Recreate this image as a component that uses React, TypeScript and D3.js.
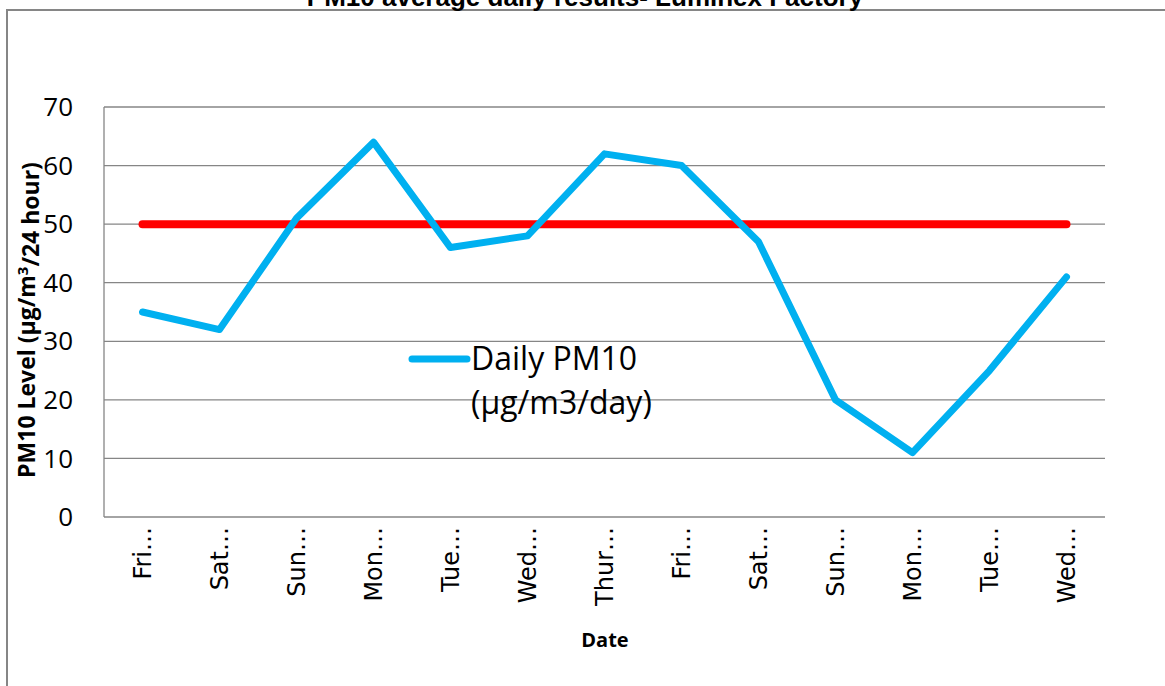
import React from "react";
import * as d3 from "d3";

const days = ["Fri…", "Sat…", "Sun…", "Mon…", "Tue…", "Wed…", "Thur…", "Fri…", "Sat…", "Sun…", "Mon…", "Tue…", "Wed…"];
const dailyPM10 = [35, 32, 51, 64, 46, 48, 62, 60, 47, 20, 11, 25, 41];
const limitValue = 50;
const yTicks = [0, 10, 20, 30, 40, 50, 60, 70];

const W = 1165;
const H = 686;
const plot = { left: 104, right: 1105, top: 107, bottom: 517 };

export default function App() {
  const idx = days.map((_, i) => i);
  const x = d3.scaleBand<number>().domain(idx).range([plot.left, plot.right]);
  const cx = (i: number) => (x(i) as number) + x.bandwidth() / 2;
  const y = d3.scaleLinear().domain([0, 70]).range([plot.bottom, plot.top]);

  const line = d3.line<number>().x((_, i) => cx(i)).y(d => y(d));
  const limit = idx.map(() => limitValue);

  const grey = "#868686";

  return (
    <svg width={W} height={H} style={{ position: "absolute", left: 0, top: 0, background: "#fff" }}>
      <rect x={7} y={10} width={W + 20} height={H + 20} fill="#fff" stroke={grey} strokeWidth={2} />
      <text x={585} y={6} textAnchor="middle" fontFamily="Liberation Sans, Arial" fontWeight="bold" fontSize={26}>
        PM10 average daily results- Luminex Factory
      </text>

      {yTicks.map(t => (
        <g key={t}>
          <line x1={plot.left} x2={plot.right} y1={y(t)} y2={y(t)} stroke={grey} strokeWidth={1.3} />
          <text x={73} y={y(t)} dy="0.35em" textAnchor="end" fontFamily="Open Sans" fontSize={26} fill="#000">
            {t}
          </text>
        </g>
      ))}
      <line x1={plot.left} x2={plot.left} y1={plot.top} y2={plot.bottom} stroke={grey} strokeWidth={1.3} />

      {days.map((d, i) => (
        <text
          key={i}
          transform={`translate(${cx(i)},527) rotate(-90)`}
          dy="0.35em"
          textAnchor="end"
          fontFamily="DejaVu Sans"
          fontSize={24}
          fill="#000"
        >
          {d}
        </text>
      ))}

      <path d={line(limit) as string} fill="none" stroke="#FF0000" strokeWidth={8} strokeLinecap="round" />
      <path
        d={line(dailyPM10) as string}
        fill="none"
        stroke="#00B0F0"
        strokeWidth={7}
        strokeLinecap="round"
        strokeLinejoin="round"
      />

      <text
        transform={`translate(27,${(plot.top + plot.bottom) / 2 + 8}) rotate(-90)`}
        dy="0.35em"
        textAnchor="middle"
        fontFamily="Open Sans"
        fontWeight="bold"
        fontSize={23}
      >
        PM10 Level (µg/m<tspan dy="-0.5em" fontSize={15}>3</tspan><tspan dy="0.5em">/24 hour)</tspan>
      </text>

      <text x={605} y={640} dy="0.35em" textAnchor="middle" fontFamily="Open Sans" fontWeight="bold" fontSize={20}>
        Date
      </text>

      <line x1={412} x2={467} y1={359} y2={359} stroke="#00B0F0" strokeWidth={7} strokeLinecap="round" />
      <text x={471} y={370} fontFamily="Open Sans" fontSize={32}>Daily PM10</text>
      <text x={471} y={414} fontFamily="Open Sans" fontSize={32}>(µg/m3/day)</text>
    </svg>
  );
}
